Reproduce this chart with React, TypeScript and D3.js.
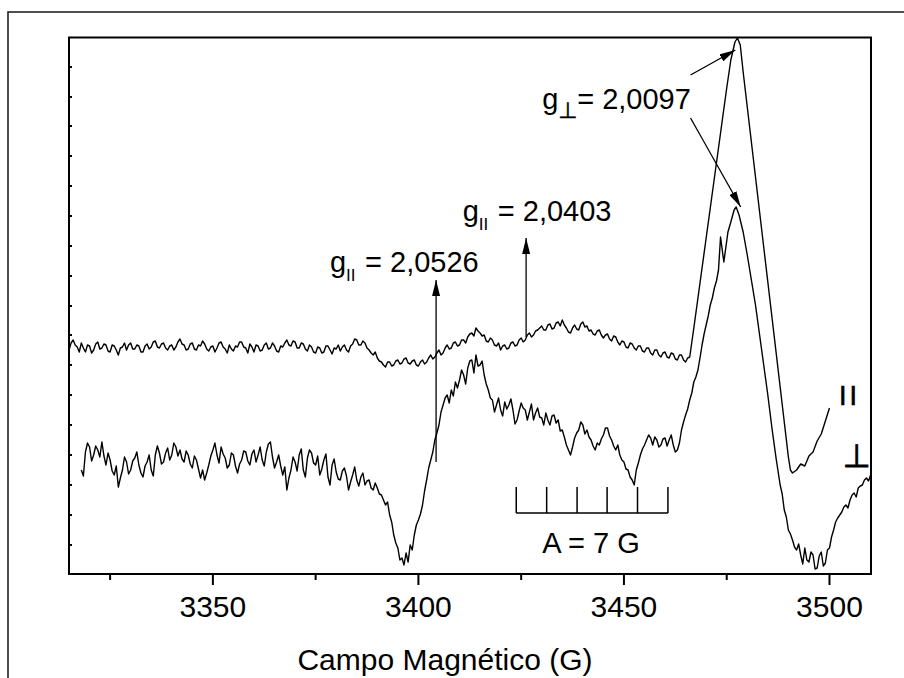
import * as d3 from 'd3';

// EPR spectra, field in gauss, signal in arbitrary units
const parField = [
  3315, 3315.5, 3316, 3316.5, 3317, 3317.5, 3318, 3318.5, 3319, 3319.5,
  3320, 3320.5, 3321, 3321.5, 3322, 3322.5, 3323, 3323.5, 3324, 3324.5,
  3325, 3325.5, 3326, 3326.5, 3327, 3327.5, 3328, 3328.5, 3329, 3329.5,
  3330, 3330.5, 3331, 3331.5, 3332, 3332.5, 3333, 3333.5, 3334, 3334.5,
  3335, 3335.5, 3336, 3336.5, 3337, 3337.5, 3338, 3338.5, 3339, 3339.5,
  3340, 3340.5, 3341, 3341.5, 3342, 3342.5, 3343, 3343.5, 3344, 3344.5,
  3345, 3345.5, 3346, 3346.5, 3347, 3347.5, 3348, 3348.5, 3349, 3349.5,
  3350, 3350.5, 3351, 3351.5, 3352, 3352.5, 3353, 3353.5, 3354, 3354.5,
  3355, 3355.5, 3356, 3356.5, 3357, 3357.5, 3358, 3358.5, 3359, 3359.5,
  3360, 3360.5, 3361, 3361.5, 3362, 3362.5, 3363, 3363.5, 3364, 3364.5,
  3365, 3365.5, 3366, 3366.5, 3367, 3367.5, 3368, 3368.5, 3369, 3369.5,
  3370, 3370.5, 3371, 3371.5, 3372, 3372.5, 3373, 3373.5, 3374, 3374.5,
  3375, 3375.5, 3376, 3376.5, 3377, 3377.5, 3378, 3378.5, 3379, 3379.5,
  3380, 3380.5, 3381, 3381.5, 3382, 3382.5, 3383, 3383.5, 3384, 3384.5,
  3385, 3385.5, 3386, 3386.5, 3387, 3387.5, 3388, 3388.5, 3389, 3389.5,
  3390, 3390.5, 3391, 3391.5, 3392, 3392.5, 3393, 3393.5, 3394, 3394.5,
  3395, 3395.5, 3396, 3396.5, 3397, 3397.5, 3398, 3398.5, 3399, 3399.5,
  3400, 3400.5, 3401, 3401.5, 3402, 3402.5, 3403, 3403.5, 3404, 3404.5,
  3405, 3405.5, 3406, 3406.5, 3407, 3407.5, 3408, 3408.5, 3409, 3409.5,
  3410, 3410.5, 3411, 3411.5, 3412, 3412.5, 3413, 3413.5, 3414, 3414.5,
  3415, 3415.5, 3416, 3416.5, 3417, 3417.5, 3418, 3418.5, 3419, 3419.5,
  3420, 3420.5, 3421, 3421.5, 3422, 3422.5, 3423, 3423.5, 3424, 3424.5,
  3425, 3425.5, 3426, 3426.5, 3427, 3427.5, 3428, 3428.5, 3429, 3429.5,
  3430, 3430.5, 3431, 3431.5, 3432, 3432.5, 3433, 3433.5, 3434, 3434.5,
  3435, 3435.5, 3436, 3436.5, 3437, 3437.5, 3438, 3438.5, 3439, 3439.5,
  3440, 3440.5, 3441, 3441.5, 3442, 3442.5, 3443, 3443.5, 3444, 3444.5,
  3445, 3445.5, 3446, 3446.5, 3447, 3447.5, 3448, 3448.5, 3449, 3449.5,
  3450, 3450.5, 3451, 3451.5, 3452, 3452.5, 3453, 3453.5, 3454, 3454.5,
  3455, 3455.5, 3456, 3456.5, 3457, 3457.5, 3458, 3458.5, 3459, 3459.5,
  3460, 3460.5, 3461, 3461.5, 3462, 3462.5, 3463, 3463.5, 3464, 3464.5,
  3465, 3465.5, 3466,
  3467, 3468, 3469, 3470, 3471, 3472, 3473, 3474, 3475, 3476, 3477,
  3477.6, 3478.3,
  3479, 3480, 3481, 3482, 3483, 3484, 3485, 3486, 3487, 3488, 3489, 3490,
  3490.5,
  3491, 3492, 3493, 3494, 3495, 3496, 3497, 3498, 3499, 3500,
];

const parSignal = [
  224, 231, 234, 229, 227, 222, 231, 226, 222, 229,
  228, 221, 224, 230, 232, 225, 226, 230, 229, 223,
  222, 229, 228, 224, 219, 226, 227, 231, 224, 229,
  231, 225, 225, 229, 228, 222, 222, 228, 230, 225,
  227, 232, 233, 227, 226, 230, 231, 226, 224, 228,
  229, 224, 227, 232, 235, 230, 229, 224, 225, 230,
  231, 225, 224, 229, 228, 233, 230, 225, 223, 227,
  228, 222, 226, 231, 232, 227, 225, 221, 229, 225,
  223, 228, 227, 232, 232, 227, 226, 221, 230, 227,
  222, 229, 228, 223, 224, 229, 231, 225, 226, 231,
  228, 223, 222, 228, 227, 231, 234, 229, 228, 233,
  232, 226, 226, 231, 230, 225, 223, 229, 227, 222,
  221, 227, 226, 221, 222, 228, 228, 224, 220, 226,
  225, 229, 223, 227, 229, 224, 222, 228, 230, 235,
  234, 229, 229, 233, 231, 226, 224, 221, 219, 222,
  216, 213, 212, 209, 207, 212, 212, 208, 209, 213,
  214, 210, 211, 215, 216, 211, 210, 213, 214, 209,
  208, 212, 214, 210, 212, 216, 219, 215, 217, 221,
  224, 219, 221, 226, 229, 225, 226, 231, 232, 228,
  229, 234, 234, 231, 237, 240, 241, 238, 246, 243,
  241, 238, 239, 233, 232, 236, 234, 229, 228, 231,
  224, 228, 229, 225, 226, 231, 232, 228, 229, 234,
  236, 232, 234, 239, 241, 237, 239, 243, 244, 246,
  248, 244, 244, 249, 250, 245, 246, 251, 252, 248,
  254, 249, 246, 242, 241, 246, 249, 245, 244, 250,
  252, 247, 248, 243, 244, 240, 239, 243, 244, 239,
  236, 239, 240, 235, 233, 238, 237, 232, 229, 233,
  232, 227, 226, 231, 230, 226, 224, 228, 228, 223,
  222, 226, 226, 221, 219, 224, 224, 219, 217, 221,
  222, 217, 216, 221, 220, 215, 214, 219, 219, 214,
  212, 216, 217,
  246, 276, 306, 336, 366, 396, 426, 456, 486, 514, 532,
  536, 529,
  502, 467, 432, 397, 362, 327, 292, 257, 222, 187, 152, 117,
  104,
  101, 104, 110, 108, 118, 122, 133, 140, 153, 166,
];

const perpField = [
  3318, 3318.5, 3319, 3319.5, 3320, 3320.5, 3321, 3321.5, 3322, 3322.5,
  3323, 3323.5, 3324, 3324.5, 3325, 3325.5, 3326, 3326.5, 3327, 3327.5,
  3328, 3328.5, 3329, 3329.5, 3330, 3330.5, 3331, 3331.5, 3332, 3332.5,
  3333, 3333.5, 3334, 3334.5, 3335, 3335.5, 3336, 3336.5, 3337, 3337.5,
  3338, 3338.5, 3339, 3339.5, 3340, 3340.5, 3341, 3341.5, 3342, 3342.5,
  3343, 3343.5, 3344, 3344.5, 3345, 3345.5, 3346, 3346.5, 3347, 3347.5,
  3348, 3348.5, 3349, 3349.5, 3350, 3350.5, 3351, 3351.5, 3352, 3352.5,
  3353, 3353.5, 3354, 3354.5, 3355, 3355.5, 3356, 3356.5, 3357, 3357.5,
  3358, 3358.5, 3359, 3359.5, 3360, 3360.5, 3361, 3361.5, 3362, 3362.5,
  3363, 3363.5, 3364, 3364.5, 3365, 3365.5, 3366, 3366.5, 3367, 3367.5,
  3368, 3368.5, 3369, 3369.5, 3370, 3370.5, 3371, 3371.5, 3372, 3372.5,
  3373, 3373.5, 3374, 3374.5, 3375, 3375.5, 3376, 3376.5, 3377, 3377.5,
  3378, 3378.5, 3379, 3379.5, 3380, 3380.5, 3381, 3381.5, 3382, 3382.5,
  3383, 3383.5, 3384, 3384.5, 3385, 3385.5, 3386, 3386.5, 3387, 3387.5,
  3388, 3388.5, 3389, 3389.5, 3390, 3390.5, 3391, 3391.5, 3392, 3392.5,
  3393, 3393.5, 3394, 3394.5, 3395, 3395.5, 3396, 3396.5, 3397, 3397.5,
  3398, 3398.5, 3399, 3399.5, 3400, 3400.5, 3401, 3401.5, 3402, 3402.5,
  3403, 3403.5, 3404, 3404.5, 3405, 3405.5, 3406, 3406.5, 3407, 3407.5,
  3408, 3408.5, 3409, 3409.5, 3410, 3410.5, 3411, 3411.5, 3412, 3412.5,
  3413, 3413.5, 3414, 3414.5, 3415, 3415.5, 3416, 3416.5, 3417, 3417.5,
  3418, 3418.5, 3419, 3419.5, 3420, 3420.5, 3421, 3421.5, 3422, 3422.5,
  3423, 3423.5, 3424, 3424.5, 3425, 3425.5, 3426, 3426.5, 3427, 3427.5,
  3428, 3428.5, 3429, 3429.5, 3430, 3430.5, 3431, 3431.5, 3432, 3432.5,
  3433, 3433.5, 3434, 3434.5, 3435, 3435.5, 3436, 3436.5, 3437, 3437.5,
  3438, 3438.5, 3439, 3439.5, 3440, 3440.5, 3441, 3441.5, 3442, 3442.5,
  3443, 3443.5, 3444, 3444.5, 3445, 3445.5, 3446, 3446.5, 3447, 3447.5,
  3448, 3448.5, 3449, 3449.5, 3450, 3450.5, 3451, 3451.5, 3452, 3452.5,
  3453, 3453.5, 3454, 3454.5, 3455, 3455.5, 3456, 3456.5, 3457, 3457.5,
  3458, 3458.5, 3459, 3459.5, 3460, 3460.5, 3461, 3461.5, 3462, 3462.5,
  3463, 3463.5, 3464, 3464.5, 3465, 3465.5, 3466, 3466.5, 3467, 3467.5,
  3468, 3468.5, 3469, 3469.5, 3470, 3470.5, 3471, 3471.5, 3472, 3472.5, 3473,
  3473.5, 3474.3, 3475.3, 3476, 3476.8, 3477.3,
  3478, 3479, 3480, 3481, 3482, 3483, 3484, 3485, 3486, 3487,
  3488, 3488.5, 3489, 3489.5, 3490, 3490.5, 3491, 3491.5, 3492, 3492.5,
  3493, 3493.5, 3494, 3494.5, 3495, 3495.5, 3496, 3496.5, 3497, 3497.5,
  3498, 3498.5, 3499, 3499.5, 3500, 3500.5, 3501, 3501.5, 3502, 3502.5,
  3503, 3503.5, 3504, 3504.5, 3505, 3505.5, 3506, 3506.5, 3507, 3507.5,
  3508, 3508.5, 3509, 3509.5, 3510,
];

const perpSignal = [
  104, 98, 122, 131, 127, 113, 119, 128, 124, 117,
  132, 118, 109, 121, 114, 103, 99, 108, 87, 96,
  104, 117, 112, 100, 104, 113, 116, 122, 109, 101,
  97, 108, 112, 119, 104, 98, 119, 128, 121, 110,
  112, 121, 126, 114, 119, 131, 127, 118, 124, 115,
  112, 123, 119, 110, 106, 118, 114, 105, 96, 104,
  94, 101, 109, 118, 124, 131, 119, 111, 127, 120,
  116, 106, 109, 121, 119, 108, 101, 110, 114, 123,
  122, 113, 109, 120, 124, 112, 119, 127, 114, 108,
  122, 130, 132, 117, 106, 112, 119, 108, 99, 107,
  84, 96, 104, 117, 112, 103, 119, 125, 104, 97,
  116, 124, 121, 111, 109, 118, 99, 105, 114, 120,
  97, 89, 109, 115, 102, 95, 94, 103, 106, 98,
  84, 92, 99, 107, 94, 88, 97, 101, 89, 93,
  94, 86, 84, 91, 86, 80, 79, 74, 69, 72,
  59, 52, 39, 31, 26, 14, 16, 9, 21, 12,
  29, 24, 39, 49, 54, 60, 69, 83, 94, 106,
  114, 122, 134, 141, 149, 162, 169, 176, 179, 171,
  184, 178, 192, 186, 194, 204, 199, 190, 206, 213,
  214, 201, 219, 208, 209, 213, 199, 190, 184, 176,
  174, 162, 169, 176, 164, 158, 172, 165, 169, 175,
  164, 150, 154, 163, 171, 166, 164, 154, 162, 170,
  154, 161, 166, 157, 156, 149, 161, 154, 149, 158,
  159, 151, 154, 143, 144, 137, 129, 124, 119, 127,
  136, 141, 144, 152, 149, 140, 144, 137, 134, 128,
  124, 131, 129, 135, 139, 146, 146, 138, 134, 128,
  124, 129, 119, 114, 112, 105, 104, 97, 94, 89,
  104, 111, 119, 125, 129, 134, 139, 136, 129, 137,
  134, 127, 129, 135, 136, 128, 134, 139, 129, 122,
  124, 131, 144, 152, 159, 165, 174, 181, 192, 197,
  204, 216, 229, 240, 249, 258, 269, 276, 286, 293, 304,
  337, 312, 342, 352, 364, 367,
  359, 342, 319, 294, 269, 239, 209, 179, 146, 116,
  89, 80, 64, 57, 44, 40, 34, 27, 24, 30,
  19, 10, 26, 14, 12, 22, 19, 5, 6, 18,
  22, 8, 11, 24, 26, 37, 44, 52, 56, 59,
  62, 67, 69, 66, 74, 79, 81, 77, 86, 88,
  89, 94, 96, 93, 99,
];

const majorTicks = [3350, 3400, 3450, 3500];
const minorTicks = [3325, 3375, 3425, 3475];
const leftTicks = [29, 59, 89, 119, 149, 179, 209, 239, 268, 298, 328, 358, 388, 418, 448, 477, 507];
const scaleBarFields = [3423.8, 3431.2, 3438.6, 3445.9, 3453.3, 3460.7];

const W = 904;
const H = 678;
const left = 69;
const right = 871;
const top = 37.5;
const bottom = 574;
const font = "'Liberation Sans', Arial, Helvetica, sans-serif";
const symbolFont = "'DejaVu Sans', sans-serif";

export default function App() {
  const x = d3.scaleLinear().domain([3315, 3510.1]).range([left, right]);
  const y = d3.scaleLinear().domain([0, 536.5]).range([bottom, top]);

  const path = (fields: number[], vals: number[]) =>
    d3.line<number>()
      .x((_, i) => x(fields[i]))
      .y(d => y(d))(vals) || '';

  // "g" with a subscript, then the value
  const gLabel = (fx: number, sy: number, sub: string, rest: string, subFont?: string, subSize?: number) => {
    const px = x(fx);
    const py = y(sy);
    return (
      <g fontFamily={font} fill="#000">
        <text x={px} y={py} fontSize={29}>g</text>
        <text x={px + 16} y={py + 9} fontSize={subSize || 17} fontFamily={subFont || font}
          stroke={subFont ? '#000' : 'none'} strokeWidth={0.5}>{sub}</text>
        <text x={px + 35} y={py} fontSize={29}>{rest}</text>
      </g>
    );
  };

  return (
    <svg width={W} height={H} style={{ position: 'absolute', left: 0, top: 0, display: 'block', background: '#fff' }}>
      <defs>
        <marker id="head" viewBox="0 0 16 8" refX={16} refY={4} markerWidth={16} markerHeight={8}
          markerUnits="userSpaceOnUse" orient="auto">
          <path d="M0,0 L16,4 L0,8 Z" fill="#000" />
        </marker>
        <clipPath id="plot">
          <rect x={left} y={top - 2} width={right - left} height={bottom - top + 2} />
        </clipPath>
      </defs>
      <rect width={W} height={H} fill="#fff" />
      {/* outer frame */}
      <rect x={8} y={12} width={1000} height={1000} fill="none" stroke="#222" strokeWidth={1.6} />

      {/* spectra */}
      <g clipPath="url(#plot)" fill="none" stroke="#000" strokeWidth={1.4} strokeLinejoin="round">
        <path d={path(parField, parSignal)} />
        <path d={path(perpField, perpSignal)} />
      </g>

      {/* plot frame */}
      <rect x={left} y={top} width={right - left} height={bottom - top} fill="none" stroke="#000" strokeWidth={2} />

      {/* axis ticks */}
      <g stroke="#000" strokeWidth={2}>
        {majorTicks.map(t => <line key={t} x1={x(t)} x2={x(t)} y1={bottom} y2={bottom + 11} />)}
        {minorTicks.map(t => <line key={t} x1={x(t)} x2={x(t)} y1={bottom} y2={bottom + 6} />)}
        {leftTicks.map(t => <line key={t} x1={left} x2={left + 3} y1={y(t)} y2={y(t)} />)}
      </g>
      <g fontFamily={font} fontSize={30} textAnchor="middle" fill="#000">
        {majorTicks.map(t => <text key={t} x={x(t)} y={617}>{t}</text>)}
        <text x={445} y={670}>Campo Magnético (G)</text>
      </g>

      {/* arrows */}
      <g stroke="#000" strokeWidth={1.3}>
        <line x1={x(3404.3)} y1={y(112)} x2={x(3404.3)} y2={y(294)} markerEnd="url(#head)" />
        <line x1={x(3426.2)} y1={y(237)} x2={x(3426.2)} y2={y(336)} markerEnd="url(#head)" />
        <line x1={x(3466.2)} y1={y(499)} x2={x(3477.1)} y2={y(524)} markerEnd="url(#head)" />
        <line x1={x(3466.2)} y1={y(456)} x2={x(3478.4)} y2={y(367)} markerEnd="url(#head)" />
      </g>

      {gLabel(3378.5, 302, 'II', '= 2,0526')}
      {gLabel(3410.8, 353, 'II', '= 2,0403')}
      {gLabel(3430.1, 465, '⊥', '= 2,0097', symbolFont, 22)}

      {/* hyperfine scale bar */}
      <g stroke="#000" strokeWidth={1.5}>
        <line x1={x(scaleBarFields[0])} x2={x(scaleBarFields[scaleBarFields.length - 1])} y1={y(61)} y2={y(61)} />
        {scaleBarFields.map(f => <line key={f} x1={x(f)} x2={x(f)} y1={y(61)} y2={y(87)} />)}
      </g>
      <text x={x(3442)} y={y(21)} fontFamily={font} fontSize={29} textAnchor="middle">A = 7 G</text>

      {/* series labels */}
      <text x={x(3502.3)} y={y(169)} fontFamily={font} fontSize={27} letterSpacing={3}
        stroke="#000" strokeWidth={0.6}>II</text>
      <text x={x(3506.6)} y={y(107)} fontFamily={symbolFont} fontSize={32} textAnchor="middle"
        stroke="#000" strokeWidth={0.8}>⊥</text>
    </svg>
  );
}
